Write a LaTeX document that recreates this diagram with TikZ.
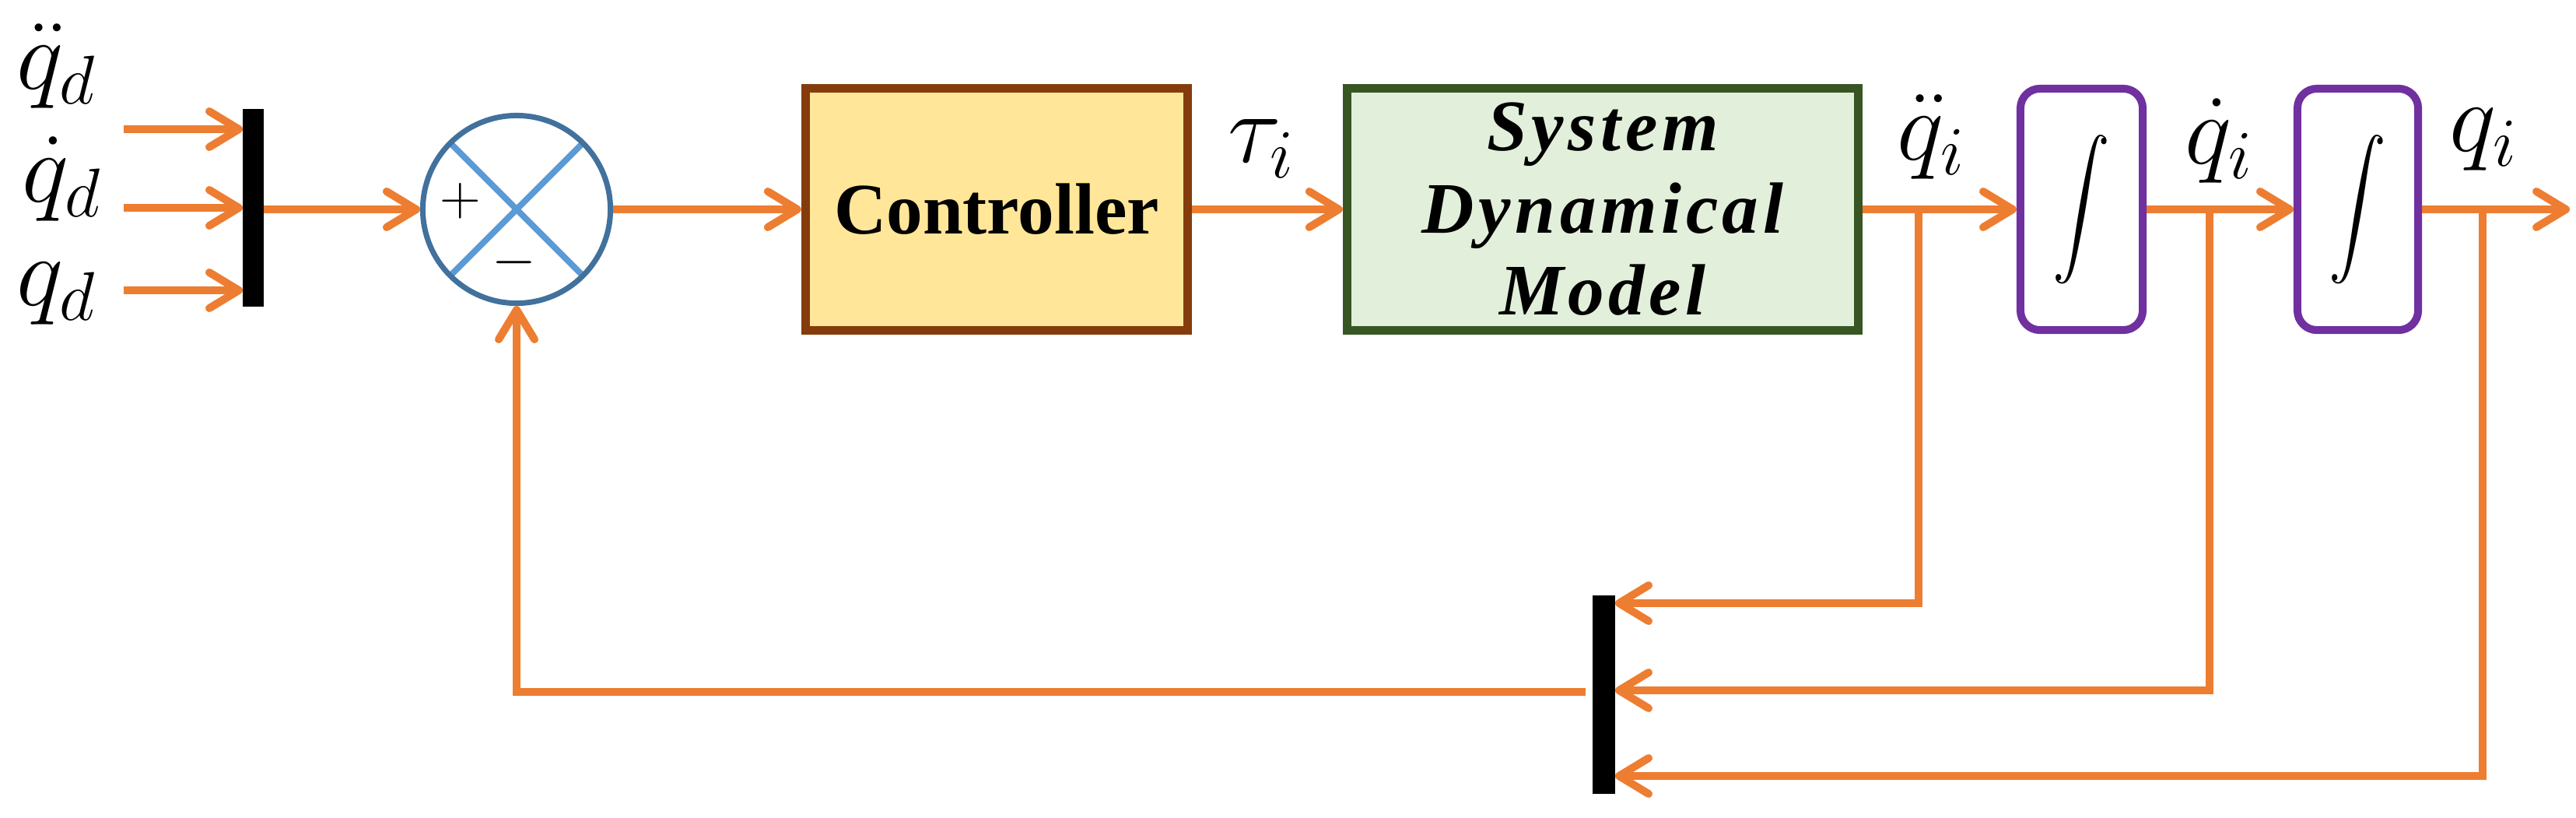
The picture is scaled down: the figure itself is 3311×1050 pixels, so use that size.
\documentclass[tikz,border=0pt]{standalone}
\usepackage{fontspec}
\setmainfont{Liberation Serif}
\usetikzlibrary{arrows.meta}
\definecolor{sigorange}{HTML}{ED7D31}
\definecolor{sumblue}{HTML}{41719C}
\definecolor{crossblue}{HTML}{5B9BD5}
\definecolor{ctrlbrown}{HTML}{843C0C}
\definecolor{ctrlfill}{HTML}{FFE699}
\definecolor{sdmgreen}{HTML}{375623}
\definecolor{sdmfill}{HTML}{E2EFDA}
\definecolor{intpurple}{HTML}{7030A0}
\newcommand{\biglbl}[1]{\scalebox{1.75}{$#1$}}
\newcommand{\bigint}{\scalebox{2.1}[2.45]{$\displaystyle\int$}}
\begin{document}
\begin{tikzpicture}[x=0.01cm,y=-0.01cm,
  conn/.style={draw=sigorange,line width=0.1cm,line join=miter,-{Straight Barb[length=0.38cm,width=0.46cm,round]}},
  lbl/.style={inner sep=0pt,font=\fontsize{20.74}{22}\selectfont},
  pm/.style={inner sep=0pt,font=\fontsize{20.74}{22}\selectfont},
  barnode/.style={fill=black,inner sep=0pt,outer sep=0pt},
  blockbox/.style={line width=0.11cm,inner sep=0pt,minimum width=4.91cm,minimum height=3.11cm,align=center},
  intbox/.style={draw=intpurple,line width=0.1cm,rounded corners=0.25cm,inner sep=0pt,minimum width=1.57cm,minimum height=3.1cm,font=\fontsize{10}{10}\selectfont}
]
\useasboundingbox (0,0) rectangle (3311,1050);

% mux bars
\node[barnode,minimum width=0.27cm,minimum height=2.54cm] (bar1) at (325.5,267) {};
\node[barnode,minimum width=0.29cm,minimum height=2.55cm] (bar2) at (2061.5,892.5) {};

% summing junction
\node[circle,draw=sumblue,line width=0.07cm,minimum size=2.41cm,inner sep=0pt,
  path picture={\draw[crossblue,line width=0.08cm]
    (path picture bounding box.north west) -- (path picture bounding box.south east)
    (path picture bounding box.north east) -- (path picture bounding box.south west);}]
  (sum) at (664,269) {};
\node[pm] (plus) at (592,258) {$+$};
\node[pm] (minus) at (661,337) {$-$};

% blocks
\node[blockbox,draw=ctrlbrown,fill=ctrlfill,font=\fontsize{26.5}{30}\selectfont\bfseries] (ctrl) at (1281,269) {Controller};
\node[blockbox,draw=sdmgreen,fill=sdmfill,minimum width=6.57cm,font=\fontsize{26.5}{30}\selectfont\bfseries\itshape\addfontfeature{LetterSpace=6}] (sdm) at (2060,269) {System\\Dynamical\\Model};
\node[intbox] (int1) at (2675.5,269) {\bigint};
\node[intbox,minimum width=1.55cm] (int2) at (3030.5,269) {\bigint};

% labels
\node[lbl] (lqdd) at (73,85) {\biglbl{\ddot{q}_d}};
\node[lbl] (lqd) at (80,230) {\biglbl{\dot{q}_d}};
\node[lbl] (lq) at (73,377) {\biglbl{q_d}};
\node[lbl] (ltau) at (1622,191) {\biglbl{\tau_i}};
\node[lbl] (lqidd) at (2483,176) {\biglbl{\ddot{q}_i}};
\node[lbl] (lqid) at (2853,181) {\biglbl{\dot{q}_i}};
\node[lbl] (lqi) at (3193,179) {\biglbl{q_i}};

% coordinates
\coordinate (in1) at (159,166);
\coordinate (in2) at (159,267);
\coordinate (in3) at (159,373);
\coordinate (b1) at (2466,269);
\coordinate (b2) at (2840,269);
\coordinate (b3) at (3191,269);
\coordinate (k1) at (2466,775);
\coordinate (k2) at (2840,887);
\coordinate (k3) at (3191,997);
\coordinate (out) at (3303,269);
\coordinate (fbk) at (664,889);

% connectors
\draw[conn] (in1) -- (in1 -| bar1.west);
\draw[conn] (in2) -- (in2 -| bar1.west);
\draw[conn] (in3) -- (in3 -| bar1.west);
\draw[conn] (bar1.east |- sum.west) -- (sum.west);
\draw[conn] (sum.east) -- (ctrl.west);
\draw[conn] (ctrl.east) -- (sdm.west);
\draw[conn] (sdm.east) -- (int1.west);
\draw[conn] (int1.east) -- (int2.west);
\draw[conn] (int2.east) -- (out);
\draw[conn] (b1) -- (k1) -- (k1 -| bar2.east);
\draw[conn] (b2) -- (k2) -- (k2 -| bar2.east);
\draw[conn] (b3) -- (k3) -- (k3 -| bar2.east);
\draw[conn,shorten <=0.09cm] (fbk -| bar2.west) -- (fbk) -- (sum.south);
\end{tikzpicture}
\end{document}
